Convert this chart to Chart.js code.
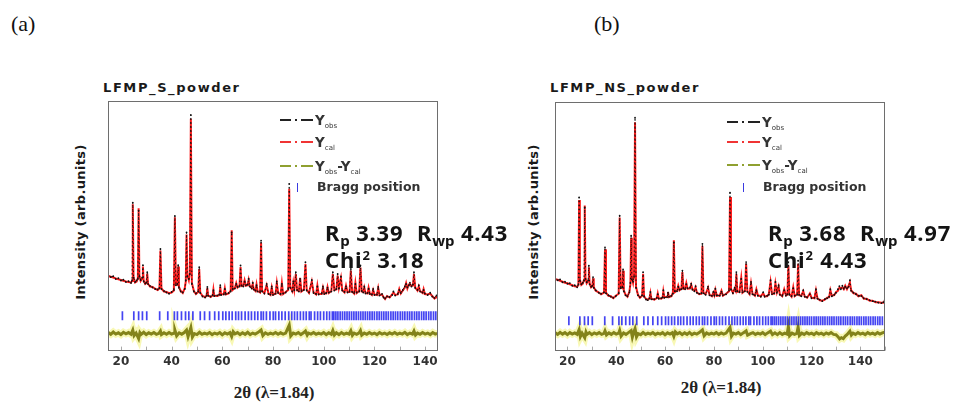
<!DOCTYPE html>
<html><head><meta charset="utf-8">
<script src="https://cdn.jsdelivr.net/npm/chart.js@4.4.1/dist/chart.umd.min.js"></script>
<style>
body{margin:0;width:976px;height:413px;background:#fff;position:relative;overflow:hidden;font-family:'DejaVu Sans',sans-serif}
.abs{position:absolute;white-space:nowrap}
.plab{font-family:'Liberation Serif',serif;font-size:22px;line-height:22px;color:#111}
.ttl{font-weight:bold;font-size:13px;line-height:14px;letter-spacing:1.6px;color:#1a1a1a}
.ytl{font-weight:bold;font-size:13px;letter-spacing:0.35px;color:#1a1a1a;transform:translate(-50%,-50%) rotate(-90deg)}
.xtl{font-family:'Liberation Serif',serif;font-weight:bold;font-size:17px;color:#222;transform:translate(-50%,-50%)}
.stat{font-family:'Noto Sans',sans-serif;font-weight:bold;font-size:22px;line-height:22px;letter-spacing:0.8px;color:#141414}
.stat .sb{font-size:15px;position:relative;top:5px;letter-spacing:0}
.stat .sp{font-size:13px;position:relative;top:-8px}
.stat .g{margin-left:7px}
.lt{font-weight:bold;font-size:13.5px;line-height:14px;color:#333}
.lt .sb{font-size:7px;position:relative;top:3px;font-weight:normal}
.bt{font-weight:bold;font-size:12.5px;line-height:14px;color:#333}
.samp{position:absolute;width:33px;height:2px}
.samp i{position:absolute;top:0;height:1.5px;background:currentColor}
.bm{position:absolute;width:1.4px;height:9px;background:#3a3ae0}
.box{position:absolute}
</style></head><body>

<div class="abs plab" style="left:11px;top:13px">(a)</div>
<div class="abs plab" style="left:594px;top:13px">(b)</div>

<div class="abs ttl" style="left:103px;top:81px">LFMP_S_powder</div>
<div class="abs ttl" style="left:550px;top:81px">LFMP_NS_powder</div>

<div class="abs ytl" style="left:80px;top:222px">Intensity (arb.units)</div>
<div class="abs ytl" style="left:533px;top:222px">Intensity (arb.units)</div>

<div class="abs xtl" style="left:274px;top:393px">2θ (λ=1.84)</div>
<div class="abs xtl" style="left:721px;top:388px">2θ (λ=1.84)</div>

<div class="box" style="left:102px;top:95px;width:342px;height:277px"><canvas id="ca"></canvas></div>
<div class="box" style="left:549px;top:96px;width:342px;height:276px"><canvas id="cb"></canvas></div>

<!-- legend (a) -->
<div class="samp" style="left:280px;top:119px;color:#222"><i style="left:0;width:11px"></i><i style="left:15px;width:2px"></i><i style="left:21px;width:12px"></i></div>
<div class="abs lt" style="left:315px;top:113px">Y<span class="sb">obs</span></div>
<div class="samp" style="left:280px;top:141px;color:#f03434"><i style="left:0;width:11px"></i><i style="left:15px;width:2px"></i><i style="left:21px;width:12px"></i></div>
<div class="abs lt" style="left:315px;top:135px">Y<span class="sb">cal</span></div>
<div class="samp" style="left:280px;top:165px;color:#8fa030"><i style="left:0;width:11px"></i><i style="left:15px;width:2px"></i><i style="left:21px;width:12px"></i></div>
<div class="abs lt" style="left:315px;top:159px">Y<span class="sb">obs</span>-Y<span class="sb">cal</span></div>
<div class="bm" style="left:297px;top:183px"></div>
<div class="abs bt" style="left:317px;top:180px">Bragg position</div>

<!-- legend (b) -->
<div class="samp" style="left:727px;top:121px;color:#222"><i style="left:0;width:11px"></i><i style="left:15px;width:2px"></i><i style="left:21px;width:12px"></i></div>
<div class="abs lt" style="left:762px;top:115px">Y<span class="sb">obs</span></div>
<div class="samp" style="left:727px;top:141px;color:#f03434"><i style="left:0;width:11px"></i><i style="left:15px;width:2px"></i><i style="left:21px;width:12px"></i></div>
<div class="abs lt" style="left:762px;top:135px">Y<span class="sb">cal</span></div>
<div class="samp" style="left:727px;top:164px;color:#8fa030"><i style="left:0;width:11px"></i><i style="left:15px;width:2px"></i><i style="left:21px;width:12px"></i></div>
<div class="abs lt" style="left:762px;top:158px">Y<span class="sb">obs</span>-Y<span class="sb">cal</span></div>
<div class="bm" style="left:743px;top:183px"></div>
<div class="abs bt" style="left:763px;top:180px">Bragg position</div>

<!-- statistics -->
<div class="abs stat" style="left:325px;top:221px">R<span class="sb">p</span> 3.39&nbsp;<span class="g">R</span><span class="sb">wp</span> 4.43</div>
<div class="abs stat" style="left:325px;top:248px">Chi<span class="sp">2</span> 3.18</div>
<div class="abs stat" style="left:768px;top:221px">R<span class="sb">p</span> 3.68&nbsp;<span class="g">R</span><span class="sb">wp</span> 4.97</div>
<div class="abs stat" style="left:768px;top:248px">Chi<span class="sp">2</span> 4.43</div>

<script>
// ---- data: [2θ, Y_obs, Y_cal] ----
const profileA = [
[15.0,30.6,30.2],[16.0,29.8,29.9],[17.0,30.1,29.6],[18.0,29.0,29.2],[19.0,29.3,28.9],[20.0,28.4,28.6],
[21.0,28.7,28.3],[22.0,27.8,28.0],[23.0,28.1,27.8],[24.0,27.4,27.6],[24.4,28.5,28.2],[24.7,59.5,58.8],
[25.0,29.5,29.8],[25.6,27.8,27.6],[26.2,28.4,28.0],[26.7,29.0,29.3],[27.0,56.3,57.2],[27.3,30.0,30.4],
[27.8,28.6,28.2],[28.4,29.5,29.2],[28.7,34.5,34.0],[29.0,28.0,28.3],[29.6,27.2,27.0],[30.1,27.6,27.4],
[30.4,31.7,31.2],[30.7,27.0,27.1],[31.5,26.2,26.0],[32.5,25.6,25.8],[33.5,25.0,25.1],[34.5,24.8,24.6],
[35.2,25.4,25.2],[35.6,41.0,40.4],[36.0,25.0,25.2],[37.0,24.2,24.0],[38.0,23.6,23.8],[39.0,23.1,23.3],
[40.0,23.8,23.6],[40.9,24.6,24.4],[41.3,54.2,53.6],[41.7,26.5,26.8],[42.3,27.0,26.6],[42.6,34.5,34.0],
[42.9,25.5,25.8],[43.6,24.0,24.2],[44.4,23.6,23.4],[45.2,25.0,25.3],[45.6,28.5,28.0],[45.9,47.6,46.8],
[46.2,30.0,30.5],[46.8,29.0,28.5],[47.2,31.0,31.5],[47.6,94.5,93.0],[48.0,27.0,27.4],[48.8,24.0,24.2],
[49.6,23.2,23.0],[50.5,24.0,23.8],[50.9,33.7,33.0],[51.3,23.4,23.6],[52.2,22.0,22.2],[53.2,21.6,21.8],
[53.8,22.4,22.2],[54.1,25.8,25.4],[54.4,22.3,22.5],[55.4,22.0,21.8],[56.2,22.6,22.4],[56.5,24.5,24.8],
[56.8,22.2,22.4],[58.0,22.4,22.2],[58.9,22.8,22.6],[59.2,26.5,26.0],[59.5,22.6,22.8],[60.6,22.8,23.0],
[61.0,25.0,25.3],[61.4,23.0,22.8],[62.5,23.4,23.2],[63.3,24.0,24.4],[63.7,47.6,48.5],[64.1,25.0,24.6],
[65.0,25.2,25.5],[65.5,27.0,27.4],[66.0,25.8,25.6],[66.8,26.0,26.4],[67.2,34.4,33.8],[67.6,26.4,26.2],
[68.3,26.0,26.3],[68.8,28.0,28.5],[69.3,26.5,26.3],[70.0,26.8,26.5],[70.4,29.1,28.6],[70.8,26.0,26.3],
[71.6,25.2,25.5],[72.0,27.5,27.0],[72.4,24.8,25.0],[73.1,24.4,24.2],[73.5,26.5,26.8],[73.9,24.0,24.2],
[74.9,23.8,23.6],[75.3,44.3,43.5],[75.7,24.0,24.3],[76.6,23.2,23.4],[77.5,27.0,26.5],[78.2,23.0,23.2],
[79.0,22.8,22.6],[79.5,26.0,25.6],[80.0,22.6,22.8],[81.0,23.2,23.0],[81.5,28.0,27.4],[82.0,23.4,23.6],
[83.0,23.0,22.8],[83.5,27.0,27.4],[84.0,23.2,23.0],[85.0,23.6,23.8],[86.0,25.0,24.6],[86.4,67.0,65.0],
[86.8,25.5,25.8],[87.6,24.0,24.2],[88.0,28.0,27.5],[88.4,24.5,24.8],[89.0,31.7,31.0],[89.5,24.6,24.4],
[90.2,24.0,24.2],[90.7,29.0,29.5],[91.2,24.2,24.0],[92.2,24.6,24.8],[92.8,35.7,35.0],[93.3,24.4,24.6],
[94.2,23.6,23.4],[95.3,28.6,28.0],[96.0,23.4,23.6],[97.0,23.0,22.8],[97.5,26.0,26.4],[98.0,22.8,23.0],
[99.2,23.2,23.0],[99.7,26.0,25.5],[100.2,23.0,23.2],[101.0,23.4,23.2],[101.5,25.5,25.8],[102.0,23.6,23.4],
[103.0,24.0,24.2],[103.6,31.7,31.0],[104.2,24.4,24.6],[105.0,25.0,24.8],[105.5,31.0,30.4],[106.0,25.2,25.5],
[106.8,30.0,29.4],[107.3,24.4,24.6],[108.2,23.8,23.6],[108.8,26.0,26.4],[109.4,23.6,23.8],[110.2,24.0,23.8],
[110.7,33.0,32.4],[111.2,23.8,24.0],[112.0,23.4,23.2],[112.5,27.0,27.5],[113.0,23.6,23.4],[114.0,24.0,24.2],
[114.5,34.4,33.6],[115.0,24.2,24.0],[115.6,23.6,23.8],[116.0,26.0,25.6],[116.5,23.2,23.4],[117.3,23.4,23.2],
[117.7,25.1,25.5],[118.2,23.0,23.2],[119.0,22.8,22.6],[119.5,25.0,24.6],[120.0,22.6,22.8],[121.0,22.8,22.6],
[121.5,25.8,25.4],[122.0,22.4,22.6],[123.0,23.0,22.8],[123.6,21.6,21.8],[124.2,21.2,21.0],[125.0,22.0,22.2],
[126.0,21.8,21.6],[127.0,22.6,22.8],[127.5,24.0,23.6],[128.2,22.4,22.6],[129.2,23.0,22.8],[129.8,24.6,25.0],
[130.4,23.4,23.2],[131.2,24.6,24.4],[132.0,26.0,25.6],[132.5,27.0,27.4],[133.0,25.6,25.2],[133.6,26.4,26.8],
[134.0,27.5,27.0],[134.6,26.0,26.2],[135.2,26.8,26.4],[135.6,31.7,31.0],[136.1,25.4,25.6],[137.0,24.6,24.4],
[137.5,26.5,26.0],[138.0,24.0,24.2],[139.0,23.6,23.4],[139.4,24.6,25.0],[139.9,23.2,23.0],[141.0,22.6,22.8],
[142.0,23.5,23.2],[142.8,22.0,22.2],[143.7,21.4,21.2],[144.5,22.4,22.0],[145.0,21.0,21.2]
];

const profileB = [
[15.0,29.4,29.0],[16.0,28.6,28.8],[17.0,28.9,28.4],[18.0,27.8,28.0],[19.0,28.0,27.6],[20.0,27.2,27.4],
[21.0,27.4,27.0],[22.0,26.4,26.6],[23.0,26.6,26.2],[24.0,25.8,26.0],[24.5,27.0,26.6],[24.8,61.8,60.8],
[25.1,28.5,28.9],[25.7,27.0,26.7],[26.3,27.6,27.2],[26.8,28.4,28.8],[27.1,57.8,58.6],[27.4,29.2,29.6],
[27.9,27.8,27.4],[28.5,28.6,28.3],[28.8,34.5,33.8],[29.1,27.0,27.3],[29.7,26.0,25.8],[30.2,26.4,26.2],
[30.5,29.9,29.4],[30.8,25.6,25.8],[31.6,24.6,24.4],[32.8,23.6,23.8],[33.8,23.2,23.0],[35.0,23.8,23.6],
[35.4,41.8,41.0],[35.8,23.4,23.6],[36.8,22.6,22.4],[37.8,22.0,22.2],[38.8,21.6,21.4],[39.8,22.2,22.4],
[41.0,23.4,23.2],[41.4,54.5,53.8],[41.8,25.4,25.7],[42.5,25.8,25.4],[42.8,33.0,32.4],[43.1,24.2,24.5],
[43.8,22.6,22.8],[44.6,22.2,22.0],[45.4,23.8,24.1],[45.8,27.5,27.0],[46.1,46.5,45.6],[46.4,29.0,29.5],
[46.9,28.0,27.5],[47.3,30.0,30.5],[47.7,93.8,92.0],[48.1,25.6,26.0],[48.9,22.6,22.8],[49.7,21.8,21.6],
[50.6,22.6,22.4],[51.0,31.9,31.2],[51.4,22.0,22.2],[52.2,20.9,21.1],[52.9,20.6,20.8],[53.6,21.4,21.2],
[54.0,23.9,23.5],[54.4,21.0,21.2],[55.6,21.0,20.8],[56.6,21.6,21.4],[57.0,23.0,23.3],[57.4,21.2,21.4],
[58.4,21.4,21.2],[59.0,21.8,21.6],[59.3,24.6,24.2],[59.7,21.6,21.8],[60.8,21.8,22.0],[61.2,23.6,23.9],
[61.6,22.0,21.8],[62.6,22.4,22.2],[63.2,23.2,23.6],[63.6,43.8,44.6],[64.0,24.2,23.8],[64.9,24.2,24.5],
[65.4,26.0,26.4],[65.9,24.8,24.6],[66.7,25.0,25.4],[67.1,32.5,31.9],[67.5,25.4,25.2],[68.2,25.0,25.3],
[68.7,27.0,27.5],[69.2,25.4,25.2],[70.2,25.6,25.3],[70.7,27.2,26.8],[71.2,24.8,25.1],[72.0,24.2,24.5],
[72.5,26.2,25.8],[73.0,23.6,23.8],[74.0,23.2,23.0],[74.9,23.4,23.2],[75.3,43.2,42.4],[75.7,23.4,23.7],
[76.6,22.8,23.0],[77.6,26.0,25.6],[78.2,22.6,22.8],[79.2,22.4,22.2],[79.8,24.0,23.6],[80.2,22.4,22.6],
[80.6,25.2,24.8],[81.2,22.6,22.4],[82.4,22.4,22.6],[83.1,24.0,24.4],[83.7,22.6,22.4],[85.0,23.0,23.2],
[86.2,24.6,24.2],[86.6,63.7,62.0],[87.0,24.8,25.1],[87.8,23.4,23.6],[88.5,25.6,25.2],[88.9,24.2,24.4],
[89.2,31.9,31.2],[89.6,24.2,24.0],[90.5,23.8,24.0],[91.2,29.2,29.6],[91.7,23.8,23.6],[92.7,24.2,24.4],
[93.2,35.9,35.2],[93.7,24.0,24.2],[94.6,23.2,23.0],[95.2,27.9,27.4],[95.8,23.0,23.2],[96.8,22.6,22.4],
[97.4,24.6,25.0],[98.0,22.4,22.6],[99.2,22.0,22.2],[100.2,23.8,23.4],[100.8,22.0,22.2],[101.8,22.4,22.2],
[102.5,22.8,23.0],[103.2,28.6,28.0],[103.8,23.0,23.2],[104.7,23.4,23.2],[105.2,27.9,27.4],[105.8,23.6,23.8],
[106.5,26.6,26.1],[107.0,22.8,23.0],[108.0,22.4,22.2],[108.8,24.6,25.0],[109.5,22.4,22.6],[110.1,23.0,22.8],
[110.5,35.9,34.6],[110.9,22.8,23.1],[111.8,22.2,22.0],[112.5,25.4,25.8],[113.1,22.4,22.2],[114.1,22.8,23.0],
[114.5,36.5,35.2],[114.9,22.8,22.6],[115.8,22.2,22.4],[116.6,24.6,24.2],[117.2,22.0,22.2],[118.2,21.8,21.6],
[119.3,23.0,23.3],[120.0,21.4,21.6],[121.2,21.6,21.4],[121.8,25.0,24.6],[122.4,21.2,21.4],[123.4,20.8,20.6],
[124.4,20.2,20.4],[125.4,21.0,20.8],[126.4,21.4,21.6],[127.2,22.0,21.8],[127.7,25.0,24.6],[128.3,22.2,22.4],
[129.3,22.8,22.6],[130.0,23.6,23.8],[130.8,25.0,24.4],[131.4,26.2,25.6],[132.0,25.0,25.4],[132.6,26.4,25.8],
[133.2,25.2,25.0],[133.8,26.0,26.4],[134.5,25.4,25.0],[135.2,26.0,26.4],[135.7,28.6,27.8],[136.2,24.4,24.6],
[137.2,23.6,23.4],[138.2,23.0,23.2],[139.2,22.4,22.2],[140.4,22.3,22.6],[141.4,21.4,21.2],[142.6,21.0,21.2],
[143.8,20.6,20.4],[145.0,20.2,20.4],[146.2,20.0,19.8],[147.4,19.6,19.8],[148.6,19.4,19.6],[149.4,19.8,19.6],
[150.0,20.8,20.4]
];

// Y_obs - Y_cal difference curves (plotted with an offset below the pattern): [2θ, value]
const diffA = [
[15,7.6],[16,6.9],[17,7.8],[18,7.0],[19,7.5],[20,6.8],[21,7.7],[22,7.1],[23,7.6],[24,6.9],[24.7,8.6],[25.2,6.4],
[26,7.4],[27,5.2],[27.5,7.6],[28,6.9],[29,7.7],[30,6.8],[31,7.5],[32,7.0],[33,7.6],[34,6.9],[35,7.3],[35.6,8.2],
[36,6.8],[37,7.5],[38,6.9],[39,7.6],[40,7.0],[41,7.4],[41.3,8.6],[42,6.3],[43,7.5],[44,6.9],[45,7.6],[45.9,8.6],
[46.5,6.0],[47.1,8.0],[47.6,9.6],[48.2,5.8],[49,7.2],[50,6.8],[51,7.7],[52,6.9],[53,7.4],[54,7.0],[55,7.6],
[56,6.8],[57,7.4],[58,7.0],[59,7.6],[60,6.7],[61,7.5],[62,7.0],[63,7.6],[63.7,6.0],[64.3,8.0],[65,7.1],[66,7.6],
[67,6.8],[68,7.5],[69,6.9],[70,7.7],[71,6.8],[72,7.4],[73,7.0],[74,7.6],[75.3,8.6],[76,6.4],[77,7.5],[78,6.9],
[79,7.4],[80,7.0],[81,7.6],[82,6.9],[83,7.5],[84,7.0],[85,7.4],[86.4,10.6],[87,6.2],[88,7.4],[89,7.0],[90,7.6],
[91,6.8],[92,7.5],[92.8,8.2],[93.5,6.6],[94,7.4],[95,7.0],[96,7.6],[97,6.9],[98,7.4],[99,7.0],[100,7.6],
[101,6.8],[102,7.5],[103,6.9],[103.6,8.4],[104.2,6.6],[105,7.5],[106,6.8],[107,7.6],[108,6.9],[109,7.4],
[110,7.0],[110.7,8.3],[111.3,6.5],[112,7.4],[113,6.9],[114,7.5],[114.5,8.4],[115,6.6],[116,7.4],[117,6.9],
[118,7.6],[119,7.0],[120,7.4],[121,6.8],[122,7.6],[123,7.0],[124,7.4],[125,6.8],[126,7.5],[127,7.0],[128,7.6],
[129,6.9],[130,7.4],[131,7.0],[132,7.7],[133,6.8],[134,7.4],[135,7.0],[135.6,8.2],[136.2,6.6],[137,7.4],
[138,6.9],[139,7.6],[140,7.0],[141,7.4],[142,6.8],[143,7.6],[144,7.0],[145,7.3]
];
const diffB = [
[15,7.5],[16,6.9],[17,7.7],[18,7.0],[19,7.6],[20,6.8],[21,7.6],[22,7.0],[23,7.5],[24,6.9],[24.8,8.8],[25.3,6.0],
[26,7.4],[27.1,5.6],[27.6,7.8],[28,6.9],[29,7.6],[30,6.8],[31,7.5],[32,7.0],[33,7.6],[34,6.9],[35,7.3],[35.4,8.3],
[36,6.7],[37,7.5],[38,6.9],[39,7.6],[40,7.0],[41,7.4],[41.4,8.5],[42,6.2],[43,7.5],[44,6.9],[45,7.6],[46.1,8.4],
[46.6,5.8],[47.2,7.9],[47.7,9.2],[48.3,5.9],[49,7.2],[50,6.8],[51,7.7],[52,6.9],[53,7.4],[54,7.0],[55,7.6],
[56,6.8],[57,7.4],[58,7.0],[59,7.6],[60,6.7],[61,7.5],[62,7.0],[63,7.6],[63.6,6.1],[64.2,7.9],[65,7.1],[66,7.6],
[67,6.8],[68,7.5],[69,6.9],[70,7.7],[71,6.8],[72,7.4],[73,7.0],[74,7.6],[75.3,8.7],[76,6.4],[77,7.5],[78,6.9],
[79,7.4],[80,7.0],[81,7.6],[82,6.9],[83,7.5],[84,7.0],[85,7.4],[86.6,9.6],[87.2,6.2],[88,7.4],[89,7.0],[90,7.6],
[91,6.8],[92,7.5],[93.2,8.3],[93.8,6.6],[95,7.2],[96,7.6],[97,6.9],[98,7.4],[99,7.0],[100,7.6],[101,6.8],
[102,7.5],[103.2,8.2],[104,6.8],[105,7.5],[106,6.8],[107,7.6],[108,6.9],[109,7.4],[110,7.0],[110.5,10.0],
[111,6.4],[112,7.4],[113,6.9],[114,7.3],[114.5,9.8],[115,6.4],[116,7.4],[117,6.9],[118,7.6],[119,7.0],[120,7.4],
[121,6.8],[122,7.6],[123,7.0],[124,7.4],[125,6.8],[126,7.5],[127,7.0],[128,7.6],[129,6.9],[130,6.8],[130.8,6.0],
[131.5,5.1],[132.2,5.6],[133,5.2],[133.8,6.2],[134.5,6.8],[135.7,8.2],[136.3,6.6],[137,7.4],[138,6.9],[139,7.6],
[140,7.0],[141,7.4],[142,6.8],[143,7.6],[144,7.0],[145,7.4],[146,6.9],[147,7.6],[148,7.0],[149,7.5],[150,7.8]
];

// Bragg reflection positions (2θ)
const braggA = [20.6,25.1,27.0,28.5,30.2,35.3,38.5,41.1,42.3,43.9,45.5,46.8,48.4,51.3,53.0,55.0,57.0,58.6,
60.2,61.4,62.7,63.9,65.3,66.4,67.6,69.0,70.3,71.5,72.8,74.0,75.3,76.2,77.4,78.8,80.1,81.0,82.3,83.5,84.8,
86.2,87.4,88.5,89.6,90.8,92.0,93.1,94.3,95.0,96.4,97.6,98.7,100.0,101.2,102.3,103.4,104.0,104.8,105.6,106.5,
107.4,108.3,109.2,110.1,111.0,111.9,112.8,113.7,114.6,115.5,116.4,117.3,118.2,119.1,120.0,121.0,121.9,
122.8,123.7,124.6,125.5,126.5,127.4,128.3,129.2,130.2,131.1,132.0,133.0,133.9,134.8,135.8,136.7,137.6,
138.6,139.5,140.4,141.4,142.3,143.3,144.2];
const braggB = [20.6,25.1,27.0,28.5,30.2,35.3,38.5,41.1,42.3,43.9,45.5,46.8,48.4,51.3,53.0,55.0,57.0,58.6,
60.2,61.4,62.7,63.9,65.3,66.4,67.6,69.0,70.3,71.5,72.8,74.0,75.3,76.2,77.4,78.8,80.1,81.0,82.3,83.5,84.8,
86.2,87.4,88.5,89.6,90.8,92.0,93.1,94.3,95.0,96.4,97.6,98.7,100.0,101.2,102.3,103.4,104.0,104.8,105.6,106.5,
107.4,108.3,109.2,110.1,111.0,111.9,112.8,113.7,114.6,115.5,116.4,117.3,118.2,119.1,120.0,121.0,121.9,
122.8,123.7,124.6,125.5,126.5,127.4,128.3,129.2,130.2,131.1,132.0,133.0,133.9,134.8,135.8,136.7,137.6,
138.6,139.5,140.4,141.4,142.3,143.3,144.2,145.2,146.1,147.1,148.0,149.0];

// axis ticks
const tickMarksA = [20,30,40,50,60,70,80,90,100,110,120,130,140];
const tickMarksB = [20,30,40,50,60,70,80,90,100,110,120,130,140,150];
const tickLabels = [20,40,60,80,100,120,140];
const xRangeA = [15,145];
const xRangeB = [15,150];
const braggLevelA = 14.3;   // y-value of the Bragg tick row
const braggLevelB = 12.4;

const framePlugin = {
  id:'frame',
  afterDraw(chart){
    const {ctx, chartArea:a, scales:{x}} = chart;
    ctx.save();
    ctx.strokeStyle = '#a8a8a8'; ctx.lineWidth = 1;
    x.ticks.forEach(t=>{
      const px = Math.round(x.getPixelForValue(t.value))+0.5;
      ctx.beginPath(); ctx.moveTo(px,a.bottom-1); ctx.lineTo(px,a.bottom-5); ctx.stroke();
    });
    ctx.strokeStyle = '#6e6e6e';
    ctx.strokeRect(Math.round(a.left)+0.5, Math.round(a.top)+0.5, Math.round(a.width)-1, Math.round(a.height)-1);
    ctx.restore();
  }
};

function makeChart(id, profile, diff, bragg, range, braggLevel, tickMarks){
  const pts = (arr,i)=>arr.map(r=>({x:r[0], y:r[i]}));
  new Chart(document.getElementById(id), {
    type:'scatter',
    data:{datasets:[
      {label:'Yobs', data:pts(profile,1), showLine:true, borderColor:'#111', borderWidth:1.0, borderDash:[1.5,2.5],
        pointRadius:0.9, pointBackgroundColor:'#111', pointBorderWidth:0, tension:0},
      {label:'Ycal', data:pts(profile,2), showLine:true, borderColor:'#ff1c1c', borderWidth:2.0, pointRadius:0, tension:0},
      {label:'Bragg', data:bragg.map(v=>({x:v, y:braggLevel})), pointStyle:'line', rotation:90, pointRadius:4.5,
        borderColor:'rgba(35,35,240,0.85)', borderWidth:1.7},
      {label:'diff', data:pts(diff,1), showLine:true, borderColor:'#83831a', borderWidth:3, pointRadius:0, tension:0},
      {label:'diffHalo', data:pts(diff,1), showLine:true, borderColor:'rgba(240,240,90,0.45)', borderWidth:7, pointRadius:0, tension:0}
    ]},
    options:{
      responsive:true, maintainAspectRatio:false, animation:false, devicePixelRatio:1,
      layout:{padding:0},
      plugins:{legend:{display:false}, tooltip:{enabled:false}},
      scales:{
        x:{type:'linear', min:range[0], max:range[1],
           grid:{display:false, drawTicks:false}, border:{display:false},
           afterBuildTicks:s=>{ s.ticks = tickMarks.map(v=>({value:v})); },
           ticks:{autoSkip:false, maxRotation:0, padding:3, color:'#333',
             font:{family:'DejaVu Sans', weight:'bold', size:12},
             callback:v=> tickLabels.includes(v) ? String(v) : ''}},
        y:{display:false, min:0, max:100}
      }
    },
    plugins:[framePlugin]
  });
}
makeChart('ca', profileA, diffA, braggA, xRangeA, braggLevelA, tickMarksA);
makeChart('cb', profileB, diffB, braggB, xRangeB, braggLevelB, tickMarksB);
</script>
</body></html>
